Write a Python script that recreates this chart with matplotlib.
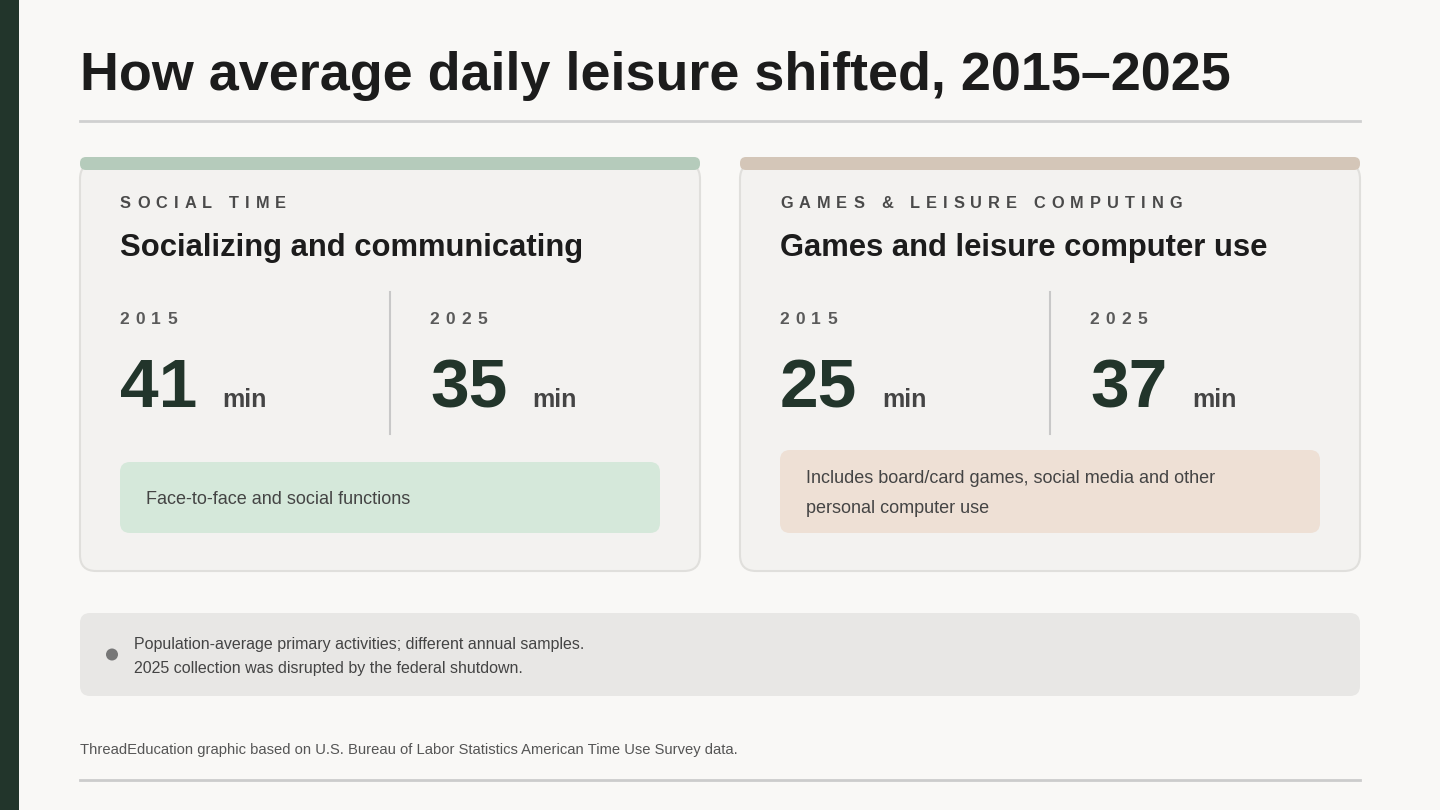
import matplotlib
matplotlib.use('Agg')
import matplotlib.pyplot as plt
from matplotlib.patches import FancyBboxPatch, Rectangle, Circle

plt.rcParams['font.family'] = ['Liberation Sans', 'DejaVu Sans']

# ---- data ----
title = 'How average daily leisure shifted, 2015\u20132025'
kickers = ['SOCIAL TIME', 'GAMES & LEISURE COMPUTING']
activities = ['Socializing and communicating', 'Games and leisure computer use']
years = ['2015', '2025']
minutes_2015 = [41, 25]
minutes_2025 = [35, 37]
descriptions = ['Face-to-face and social functions',
                'Includes board/card games, social media and other\npersonal computer use']
note_lines = ['Population-average primary activities; different annual samples.',
              '2025 collection was disrupted by the federal shutdown.']
source = 'ThreadEducation graphic based on U.S. Bureau of Labor Statistics American Time Use Survey data.'

# ---- style ----
BG = '#f9f8f6'
DARK = '#22352b'
CARD_BG = '#f3f2f0'
CARD_EDGE = '#e0dfdc'
BAR_COLORS = ['#b5cbbb', '#d4c6b8']
DESC_BG = ['#d5e8da', '#eee0d5']

fig = plt.figure(figsize=(14.4, 8.1), dpi=100, facecolor=BG)
ax = fig.add_axes([0, 0, 1, 1])
ax.set_xlim(0, 1440)
ax.set_ylim(810, 0)
ax.axis('off')
renderer = fig.canvas.get_renderer()


def spaced_text(x, y, s, size, color, track):
    # draw a string char by char to fake css letter-spacing
    for ch in s:
        t = ax.text(x, y, ch, fontsize=size, color=color, fontweight='bold',
                    va='center', ha='left', zorder=6)
        w = t.get_window_extent(renderer).width
        if ch == ' ':
            w = size * 100 / 72 * 0.278
        x += w + track


def rbox(x0, y0, x1, y1, r, fc, ec='none', lw=0, z=1):
    p = FancyBboxPatch((x0, y0), x1 - x0, y1 - y0,
                       boxstyle='round,pad=0,rounding_size=%d' % r,
                       fc=fc, ec=ec, lw=lw, zorder=z)
    ax.add_patch(p)


# left accent strip
ax.add_patch(Rectangle((0, 0), 19, 810, fc=DARK, ec='none', zorder=1))

ax.text(80, 76, title, fontsize=38.8, fontweight='bold', color='#1c1c1c',
        va='center', ha='left')
ax.plot([80, 1360], [121, 121], color='#d0d0d0', lw=2, zorder=1)

for i in range(2):
    x0 = 80 + i * 660
    x1 = x0 + 620
    rbox(x0, 163, x1, 571, 16, CARD_BG, ec=CARD_EDGE, lw=1.5, z=2)
    rbox(x0, 157, x1, 170, 6, BAR_COLORS[i], z=4)

    spaced_text(x0 + 40, 203, kickers[i], 11.8, '#4a4a4a', 6.05)
    ax.text(x0 + 40, 248, activities[i], fontsize=22.3, fontweight='bold',
            color='#1c1c1c', va='center', ha='left', zorder=5)

    # divider between the two years
    ax.plot([x0 + 310, x0 + 310], [292, 434], color='#c8c8c8', lw=1.5, zorder=5)

    vals = [minutes_2015[i], minutes_2025[i]]
    for j in range(2):
        cx = x0 + 40 + j * 310
        spaced_text(cx - 1, 319, years[j], 12.5, '#5a5a5a', 6.5)
        ax.text(cx, 407, str(vals[j]), fontsize=50, fontweight='bold',
                color=DARK, va='baseline', ha='left', zorder=5)
        ax.text(cx + 102, 407, 'min', fontsize=18, fontweight='bold',
                color='#444444', va='baseline', ha='left', zorder=5)

    ytop = 462 if i == 0 else 450
    rbox(x0 + 40, ytop, x1 - 40, 533, 10, DESC_BG[i], z=5)
    ax.text(x0 + 66, (ytop + 533) / 2 + 2, descriptions[i], fontsize=13,
            color='#444444', va='center', ha='left', linespacing=2.0, zorder=6)

# note box
rbox(80, 613, 1360, 696, 10, '#e8e7e5', z=2)
ax.add_patch(Circle((112, 654.5), 6, fc='#777777', ec='none', zorder=3))
ax.text(134, 644, note_lines[0], fontsize=11.5, color='#444444', va='center', ha='left', zorder=3)
ax.text(134, 669, note_lines[1], fontsize=11.5, color='#444444', va='center', ha='left', zorder=3)

ax.text(80, 750, source, fontsize=10.65, color='#555555', va='center', ha='left')
ax.plot([80, 1360], [780, 780], color='#cccccc', lw=2)

fig.savefig('out.png', dpi=100, facecolor=BG)
